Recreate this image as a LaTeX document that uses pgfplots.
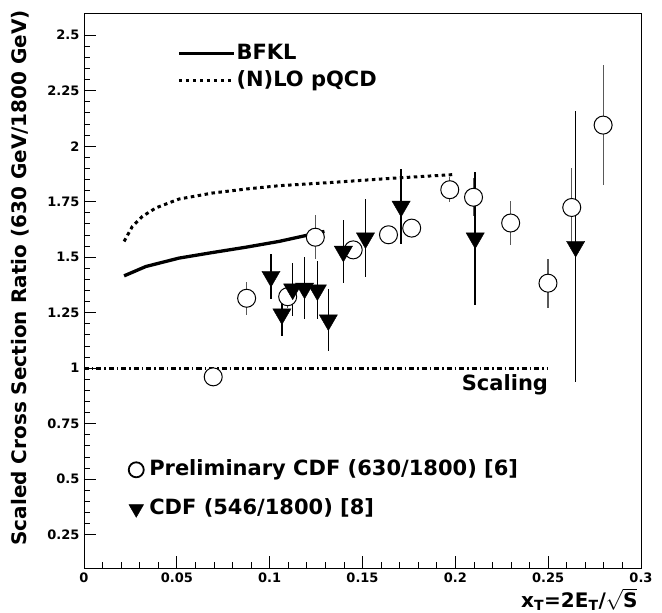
\documentclass[border=0pt]{standalone}
\usepackage{fontspec}
\setmainfont{DejaVu Sans}
\usepackage{pgfplots}
\usepackage{pgfplotstable}
\pgfplotsset{compat=1.18}
\usetikzlibrary{calc}

% preliminary CDF 630/1800 (open circles)
\pgfplotstableread{
x      y      e
0.0696 0.961  0.000
0.0876 1.315  0.075
0.1097 1.322  0.050
0.1246 1.590  0.100
0.1450 1.533  0.030
0.1640 1.601  0.030
0.1765 1.631  0.040
0.1970 1.804  0.055
0.2098 1.770  0.085
0.2298 1.654  0.100
0.2499 1.383  0.110
0.2627 1.724  0.180
0.2796 2.095  0.270
}\prelim

% CDF 546/1800 (filled triangles)
\pgfplotstableread{
x      y      e
0.1007 1.413  0.100
0.1066 1.244  0.100
0.1124 1.356  0.120
0.1188 1.360  0.140
0.1257 1.352  0.130
0.1316 1.217  0.140
0.1397 1.526  0.140
0.1516 1.586  0.175
0.1708 1.729  0.170
0.2107 1.586  0.300
0.2648 1.548  0.610
}\cdfold

\pgfplotsset{
  common/.style={
    width=557bp, height=555bp, scale only axis,
    xmin=0, xmax=0.3, ymin=0.1, ymax=2.6,
  },
}

\begin{document}
\begin{tikzpicture}
\begin{axis}[
  common, name=ax,
  axis line style={line width=0.8bp},
  tick style={line width=0.8bp, black},
  xtick={0,0.05,0.1,0.15,0.2,0.25,0.3},
  xticklabels={0,0.05,0.1,0.15,0.2,0.25,0.3},
  ytick={0.25,0.5,0.75,1,1.25,1.5,1.75,2,2.25,2.5},
  yticklabels={0.25,0.5,0.75,1,1.25,1.5,1.75,2,2.25,2.5},
  minor x tick num=4, minor y tick num=4,
  tick align=inside, xtick pos=bottom, ytick pos=left,
  major tick length=12bp, minor tick length=6bp,
  tick label style={font=\fontsize{13bp}{15bp}\selectfont\bfseries},
  xticklabel style={yshift=-1bp},
  yticklabel style={xshift=-1bp},
  ylabel={Scaled Cross Section Ratio (630 GeV/1800 GeV)},
  ylabel style={font=\fontsize{20bp}{24bp}\selectfont\bfseries,
    at={(rel axis cs:-0.115,0.523)}, anchor=center},
  xlabel={x\textsubscript{T}=2E\textsubscript{T}/$\sqrt{\mbox{S}}$},
  xlabel style={font=\fontsize{20bp}{24bp}\selectfont\bfseries,
    at={(rel axis cs:1,0)}, anchor=north east, yshift=-17bp},
  legend image code/.code={\draw[#1] (0bp,0bp) -- (55bp,0bp);},
  legend cell align=left,
  legend style={draw=none, fill=none, inner sep=0pt,
    at={(rel axis cs:0.167,0.948)}, anchor=north west,
    font=\fontsize{21bp}{25bp}\selectfont\bfseries,
    row sep=4bp,
    nodes={inner sep=1bp, text height=16bp, text depth=5bp},
    /tikz/every even column/.append style={column sep=17bp}},
]
\addplot[line width=3.3bp, black] coordinates {
  (0.0216,1.416) (0.0333,1.458) (0.0512,1.496) (0.0692,1.521)
  (0.0872,1.545) (0.1050,1.571) (0.1295,1.616)};
\addlegendentry{BFKL}
\addplot[line width=3bp, black, dash pattern=on 3.5bp off 3.5bp] coordinates {
  (0.0216,1.571) (0.0260,1.638) (0.0315,1.684) (0.0387,1.722)
  (0.0512,1.762) (0.0692,1.789) (0.0872,1.807) (0.1050,1.822)
  (0.1340,1.837) (0.1650,1.855) (0.1987,1.872)};
\addlegendentry{(N)LO pQCD}
\addplot[forget plot, line width=3bp, black,
  dash pattern=on 5bp off 3bp on 1.5bp off 3bp] coordinates {(0,1) (0.25,1)};
\node[anchor=north east, inner sep=0pt,
  font=\fontsize{21bp}{25bp}\selectfont\bfseries] at (axis cs:0.25,0.972) {Scaling};
\end{axis}

\begin{axis}[
  common, hide axis,
  legend image code/.code={\draw[#1] plot coordinates {(0bp,0bp)};},
  legend cell align=left,
  legend style={draw=none, fill=none, inner sep=0pt,
    at={(rel axis cs:0.080,0.198)}, anchor=north west,
    font=\fontsize{21bp}{25bp}\selectfont\bfseries,
    row sep=16bp, column sep=4.5bp,
    nodes={inner sep=1bp, text height=16bp, text depth=5bp}},
]
\addplot[only marks, mark=*, mark size=9bp,
  mark options={fill=white, draw=black, line width=1bp},
  legend image post style={mark size=7.5bp, mark options={line width=1.8bp, fill=white}},
  error bars/.cd, y dir=both, y explicit,
  error mark=none, error bar style={line width=1.2bp, black!65}]
  table[x=x, y=y, y error=e] {\prelim};
\addlegendentry{Preliminary CDF (630/1800) [6]}
\addplot[only marks, mark=triangle*, mark size=10.5bp,
  mark options={rotate=180, fill=black, draw=black},
  legend image post style={mark size=8.5bp},
  error bars/.cd, y dir=both, y explicit,
  error mark=none, error bar style={line width=1.6bp, black}]
  table[x=x, y=y, y error=e] {\cdfold};
\addlegendentry{CDF (546/1800) [8]}
\end{axis}
\pgfresetboundingbox
\path[use as bounding box] ($(ax.south west)+(-84bp,-45bp)$) rectangle ($(ax.north east)+(21bp,13bp)$);
\end{tikzpicture}
\end{document}
